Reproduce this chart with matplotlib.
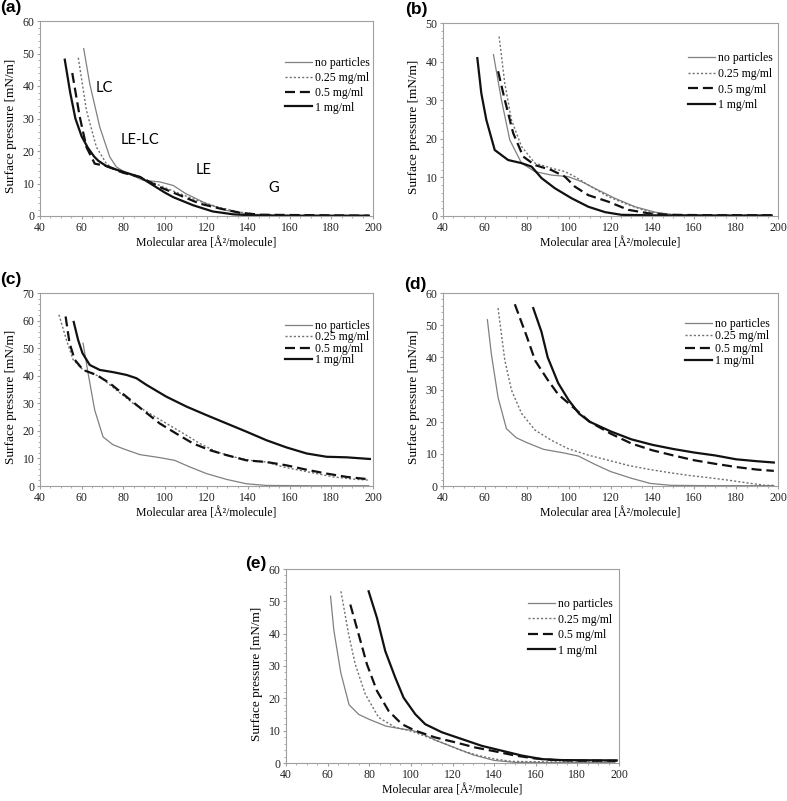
import matplotlib
matplotlib.use("Agg")
import matplotlib.pyplot as plt
from matplotlib.ticker import MultipleLocator

plt.rcParams['font.family'] = ['Liberation Serif', 'DejaVu Serif']

labels = ["no particles", "0.25 mg/ml", "0.5 mg/ml", "1 mg/ml"]

# (a)
none_a_x = [61.0, 63.9, 68.7, 73.5, 76.7, 80.7, 89.5, 97.5, 104, 110, 120, 129.6, 139, 148.8, 160, 180, 198]
none_a_y = [51.5, 40.7, 27.4, 18.2, 15.1, 13.5, 11.0, 10.5, 9.4, 6.9, 3.8, 1.7, 0.7, 0.2, 0.1, 0.1, 0.1]
p25_a_x = [58.4, 62.3, 67.1, 71.9, 76.7, 80, 88, 97.5, 107, 116.8, 126.4, 136, 145.6, 160, 180, 198]
p25_a_y = [48.7, 32.5, 21.2, 16.1, 14.0, 13.2, 12.0, 9.4, 6.9, 4.5, 2.6, 1.2, 0.4, 0.2, 0.1, 0.1]
p5_a_x = [55.5, 59.1, 62.3, 66.3, 71.9, 80, 88, 97.5, 107.1, 116.8, 126.4, 136, 145.6, 160, 180, 198]
p5_a_y = [44.0, 30.5, 21.2, 16.1, 15.4, 13.3, 12.0, 8.9, 6.4, 3.8, 2.3, 1.0, 0.4, 0.3, 0.2, 0.1]
p1_a_x = [51.9, 54.5, 57, 60, 63, 66, 68, 72, 78, 88, 94, 100, 104, 113.6, 123, 133, 142, 160, 198]
p1_a_y = [48.1, 38.0, 30.0, 24.5, 21.0, 18.3, 17.0, 15.3, 14.0, 12.0, 9.6, 7.2, 5.8, 3.3, 1.4, 0.5, 0.2, 0.1, 0.1]

# (b)
none_b_x = [64.1, 67.9, 71.9, 77.5, 83.9, 91.8, 99.8, 106.2, 114.2, 122.1, 131.7, 141.3, 149.2, 170, 197]
none_b_y = [41.8, 30.1, 19.7, 13.7, 11.5, 10.6, 10.2, 8.9, 6.7, 4.6, 2.4, 1.0, 0.4, 0.2, 0.2]
p25_b_x = [66.8, 69.5, 72.7, 77.5, 83.9, 91.8, 98.2, 103, 109.4, 119, 128.5, 138.1, 147.7, 170, 197]
p25_b_y = [46.5, 34.4, 24.9, 18.0, 13.7, 12.4, 11.5, 10.2, 8.0, 5.0, 2.9, 1.1, 0.4, 0.2, 0.2]
p5_b_x = [66.3, 69.5, 73.5, 78.3, 83.9, 91.8, 98.2, 103, 109.4, 119, 128.5, 138.1, 147.7, 170, 197]
p5_b_y = [37.5, 30.1, 21.5, 15.4, 13.2, 11.9, 10.2, 7.6, 5.4, 3.7, 1.6, 0.7, 0.3, 0.2, 0.2]
p1_b_x = [56.4, 58.3, 60.7, 64.7, 71.1, 77.5, 82.3, 87.1, 93.4, 101.4, 109.4, 117.4, 125.3, 150, 197]
p1_b_y = [40.9, 31.8, 24.9, 17.1, 14.5, 13.7, 12.8, 9.8, 7.2, 4.6, 2.4, 1.0, 0.3, 0.1, 0.1]

# (c)
none_c_x = [60.7, 63.1, 66.3, 70.3, 75, 80, 87.9, 97.5, 104.7, 112, 120, 129.6, 139.2, 148.8, 170, 198]
none_c_y = [51.8, 40.9, 27.5, 17.8, 15.0, 13.5, 11.4, 10.3, 9.3, 6.9, 4.5, 2.4, 0.8, 0.2, 0.1, 0.1]
p25_c_x = [49.1, 52.7, 55.9, 60.7, 68.7, 76.7, 84.7, 92.7, 100.7, 108.8, 116.8, 124.8, 132.8, 140.8, 148.8, 156.8, 164.8, 172.9, 180.9, 190.5, 198.5]
p25_c_y = [62.1, 53.0, 45.8, 42.1, 39.7, 34.8, 30.0, 26.3, 22.7, 19.1, 15.4, 12.4, 10.6, 9.3, 8.7, 6.9, 5.7, 4.5, 3.3, 2.5, 2.1]
p5_c_x = [52.3, 54.2, 56.7, 60.7, 67.1, 73.5, 81.5, 89.5, 97.5, 105.5, 113.6, 121.6, 129.6, 139.2, 148.8, 158.4, 168.1, 177.7, 187.3, 198.5]
p5_c_y = [61.5, 51.8, 45.8, 42.1, 40.3, 37.3, 32.4, 27.5, 22.7, 19.0, 15.4, 13.0, 11.2, 9.3, 8.7, 7.5, 5.9, 4.5, 3.3, 2.4]
p1_c_x = [56.2, 58.3, 60.4, 63.9, 68.7, 75.1, 81.5, 86.3, 91.1, 100.7, 110.4, 120, 129.6, 139.2, 148.8, 158.4, 168.1, 177.7, 187.3, 198.5]
p1_c_y = [59.5, 53.0, 48.2, 43.9, 42.1, 41.3, 40.3, 39.1, 36.7, 32.4, 28.8, 25.7, 22.7, 19.7, 16.6, 14.0, 11.8, 10.6, 10.4, 9.8]

# (d)
none_d_x = [61.2, 63.1, 66.3, 70.3, 75, 80, 88, 97.5, 104.7, 112, 120, 130, 139, 149, 170, 198]
none_d_y = [51.7, 41.0, 27.5, 17.8, 15.0, 13.5, 11.4, 10.3, 9.3, 6.9, 4.5, 2.4, 0.8, 0.2, 0.1, 0.1]
p25_d_x = [66.3, 69.5, 72.7, 77.5, 83.9, 91.8, 99.8, 109.4, 119, 128.5, 138.1, 147.7, 157.2, 166.8, 176.4, 186, 193.9, 198]
p25_d_y = [55.3, 39.2, 29.8, 22.6, 17.4, 14.2, 11.6, 9.6, 8.0, 6.4, 5.2, 4.2, 3.3, 2.6, 1.8, 0.9, 0.2, 0.2]
p5_d_x = [74.3, 80, 84, 90, 95, 100, 110, 120, 130, 140, 150, 160, 170, 180, 190, 198]
p5_d_y = [56.5, 46.5, 39.0, 33.0, 28.5, 25.7, 20.0, 16.3, 13.2, 11.1, 9.5, 8.0, 6.9, 5.9, 5.1, 4.7]
p1_d_x = [83.1, 87, 90, 95, 100, 105, 110, 120, 130, 140, 150, 160, 170, 180, 190, 198]
p1_d_y = [55.3, 48.0, 40.0, 32.0, 26.7, 22.5, 20.0, 17.0, 14.5, 12.8, 11.5, 10.4, 9.5, 8.3, 7.7, 7.3]

# (e)
none_e_x = [61.4, 63, 66.3, 70.3, 75, 80, 88, 96, 100, 105, 112, 120, 130, 140, 150, 170, 198]
none_e_y = [51.6, 41.0, 28.0, 18.0, 15.0, 13.5, 11.4, 10.5, 10.2, 9.2, 7.0, 5.0, 2.5, 0.8, 0.2, 0.1, 0.1]
p25_e_x = [66.4, 70.1, 73.3, 78.1, 84.5, 92.5, 100.5, 108.5, 116.5, 124.5, 132.5, 140.5, 148.5, 170, 198]
p25_e_y = [53.1, 39.8, 30.5, 21.3, 14.1, 11.0, 9.8, 7.9, 5.9, 3.8, 2.3, 1.2, 0.5, 0.3, 0.3]
p5_e_x = [70.9, 74.9, 78.9, 83.7, 89.3, 95.7, 102.1, 111.7, 121.3, 130.9, 140.5, 150.1, 159.7, 169.3, 180.5, 198.9]
p5_e_y = [49.0, 39.8, 30.5, 22.3, 16.1, 12.0, 10.0, 7.9, 6.4, 4.8, 3.6, 2.3, 1.4, 0.9, 0.7, 0.7]
p1_e_x = [79.7, 83.7, 87.7, 92.5, 96.5, 102.1, 106.9, 114.9, 124.5, 134.1, 143.7, 153.3, 162.9, 172.5, 198.9]
p1_e_y = [53.1, 44.9, 34.6, 26.4, 20.2, 15.1, 12.0, 9.5, 7.4, 5.3, 3.8, 2.3, 1.2, 0.9, 0.8]

panel_names = ["(a)", "(b)", "(c)", "(d)", "(e)"]
y_max = [60, 50, 70, 60, 60]

series = [
    [(none_a_x, none_a_y), (p25_a_x, p25_a_y), (p5_a_x, p5_a_y), (p1_a_x, p1_a_y)],
    [(none_b_x, none_b_y), (p25_b_x, p25_b_y), (p5_b_x, p5_b_y), (p1_b_x, p1_b_y)],
    [(none_c_x, none_c_y), (p25_c_x, p25_c_y), (p5_c_x, p5_c_y), (p1_c_x, p1_c_y)],
    [(none_d_x, none_d_y), (p25_d_x, p25_d_y), (p5_d_x, p5_d_y), (p1_d_x, p1_d_y)],
    [(none_e_x, none_e_y), (p25_e_x, p25_e_y), (p5_e_x, p5_e_y), (p1_e_x, p1_e_y)],
]

# phase labels in (a)
phase_text = ["LC", "LE-LC", "LE", "G"]
phase_x = [71.1, 87.9, 118.4, 152.5]
phase_y = [39.5, 23.3, 14.1, 8.7]

styles = [
    dict(color="#808080", lw=0.9, ls="-"),
    dict(color="#707070", lw=1.0, ls=(0, (1.5, 1.5))),
    dict(color="#111111", lw=1.6, ls=(0, (4.5, 2.2))),
    dict(color="#111111", lw=1.6, ls="-"),
]

W, H = 787, 801
# axes boxes in pixels: left, top, right, bottom
boxes = [(40, 21, 373, 216), (443, 23, 778, 216), (40, 293, 373, 486),
         (443, 293, 778, 486), (286, 569, 619, 763)]
# legend: handle start px, top px, labelspacing
leg_pos = [(285, 57, 0.24), (688, 52, 0.32), (285, 320, -0.05), (685, 318, 0.03), (528, 598, 0.3)]
# panel letters: left px, top px
letter_pos = [(0, 0), (405, 2), (0, 272), (404, 277), (245, 556)]

fig = plt.figure(figsize=(W / 100, H / 100), dpi=100)
spine_col = "#a0a0a0"

for i in range(5):
    l, t, r, b = boxes[i]
    ax = fig.add_axes([l / W, 1 - b / H, (r - l) / W, (b - t) / H])
    for (xs, ys), st, lab in zip(series[i], styles, labels):
        ax.plot(xs, ys, color=st["color"], lw=st["lw"], ls=st["ls"], label=lab)
    ax.set_xlim(40, 200)
    ax.set_ylim(0, y_max[i])
    ax.xaxis.set_major_locator(MultipleLocator(20))
    ax.xaxis.set_minor_locator(MultipleLocator(5))
    ax.yaxis.set_major_locator(MultipleLocator(10))
    ax.yaxis.set_minor_locator(MultipleLocator(2))
    ax.tick_params(which="both", direction="out", color=spine_col, labelsize=8.5, labelcolor="#222222")
    ax.tick_params(which="major", length=2.5, width=0.8, pad=1.5)
    ax.tick_params(which="minor", length=1.5, width=0.6)
    for s in ax.spines.values():
        s.set_color(spine_col)
        s.set_linewidth(0.8)
    ax.set_xlabel("Molecular area [Å²/molecule]", fontsize=8.5, labelpad=3)
    ax.set_ylabel("Surface pressure [mN/m]", fontsize=9.5)
    # right edge of the rotated label sits ~23 px left of the spine
    ax.yaxis.set_label_coords(-23 / (r - l), 0.46)

    hx, ht, lsp = leg_pos[i]
    ax.legend(loc="upper left", bbox_to_anchor=((hx - l) / (r - l), 1 - (ht - t) / (b - t)),
              frameon=False, borderpad=0, borderaxespad=0, handlelength=2.3,
              handletextpad=0.2, labelspacing=lsp, fontsize=8.5)

    lx, ly = letter_pos[i]
    fig.text(lx / W, 1 - ly / H, panel_names[i], ha="left", va="top",
             fontsize=12.5, fontweight="bold", family="Liberation Sans")

    if i == 0:
        for txt, px, py in zip(phase_text, phase_x, phase_y):
            ax.text(px, py, txt, ha="center", va="center", fontsize=10.5, family="Lato")

fig.savefig("out.png", dpi=100)
